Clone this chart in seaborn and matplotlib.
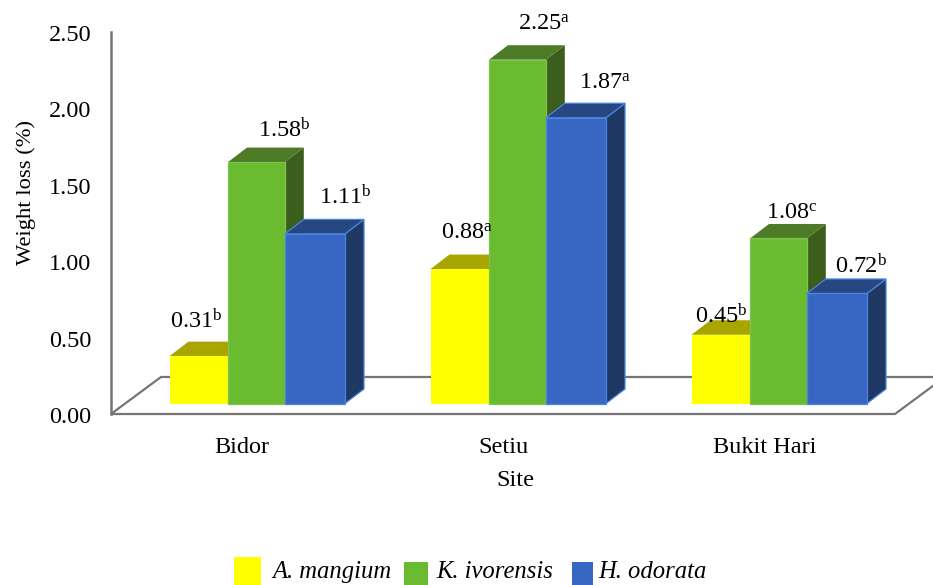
import matplotlib
matplotlib.use("Agg")
import matplotlib.pyplot as plt
from matplotlib.patches import Polygon, Rectangle
from matplotlib.transforms import ScaledTranslation
import pandas as pd
import seaborn as sns

sites = ["Bidor", "Setiu", "Bukit Hari"]
species = ["A. mangium", "K. ivorensis", "H. odorata"]
a_mangium = [0.31, 0.88, 0.45]
k_ivorensis = [1.58, 2.25, 1.08]
h_odorata = [1.11, 1.87, 0.72]
a_letters = ["b", "a", "b"]
k_letters = ["b", "a", "c"]
h_letters = ["b", "a", "b"]

W, H = 933, 585
sns.set_theme(style="white")
plt.rcParams["font.family"] = ["Liberation Serif", "DejaVu Serif"]
plt.rcParams["mathtext.fontset"] = "custom"
plt.rcParams["mathtext.rm"] = "Liberation Serif"
plt.rcParams["mathtext.it"] = "Liberation Serif:italic"
plt.rcParams["mathtext.default"] = "regular"

front = {"A. mangium": "#FFFF00", "K. ivorensis": "#6ABB30", "H. odorata": "#3867C3"}
top = ["#A9A500", "#4E7B27", "#264781"]
side = ["#A9A500", "#3C5E1C", "#1F3864"]
edge = ["#FFFF00", "#7DC455", "#4A84DE"]
GREY = "#757575"

# Axes box in pixels: the value axis runs from y=414 (0.00) up to y=32 (2.50).
L, R, T, B = 111, 933, 32, 414
fig = plt.figure(figsize=(W / 100, H / 100), dpi=100)
ax = fig.add_axes([L / W, 1 - B / H, (R - L) / W, (B - T) / H])

# Category spacing and the pixel position of the first group centre.
STEP = 261.0
C0 = 257.25
UNIT = (B - T) / 2.5
px_x = lambda p: (p - C0) / STEP
px_y = lambda p: (B - p) / UNIT
DX, DY = 19 / STEP, 14.5 / UNIT   # receding depth of each box
LIFT = px_y(403.5)                # front faces stand forward of the floor edge
TRIM = 1.7 / STEP                 # the blue boxes are a little wider than the green

records = pd.DataFrame({
    "site": sites * 3,
    "species": [s for s in species for _ in sites],
    "loss": a_mangium + k_ivorensis + h_odorata,
})

sns.barplot(data=records, x="site", y="loss", hue="species", order=sites,
            hue_order=species, palette=front, width=175.5 / STEP, gap=0,
            bottom=LIFT, saturation=1, errorbar=None, ax=ax, legend=False,
            linewidth=0, clip_on=False)

ax.set_xlim(px_x(L), px_x(R))
ax.set_ylim(0, 2.5)

# Floor of the chart, behind the boxes.
floor = [(111, 414), (161, 377), (945, 377), (895, 414)]
ax.add_patch(Polygon([(px_x(a), px_y(b)) for a, b in floor], closed=True,
                     facecolor="white", edgecolor=GREY, linewidth=1.6, zorder=0.5,
                     clip_on=False))

# Extrude every bar with a top and a side face, left to right so neighbours overlap.
for h, container in enumerate(ax.containers):
    for c, bar in enumerate(container):
        if h == 1:
            bar.set_width(bar.get_width() - TRIM)
        elif h == 2:
            bar.set_x(bar.get_x() - TRIM)
            bar.set_width(bar.get_width() + TRIM)
        x0 = bar.get_x()
        x1 = x0 + bar.get_width()
        y0 = LIFT
        y1 = LIFT + container.datavalues[c]
        z = 2 + c * 10 + h * 2
        bar.set_zorder(z + 1)
        bar.set_edgecolor(edge[h])
        bar.set_linewidth(0.9 if h else 0)
        ax.add_patch(Polygon([(x1, y0), (x1 + DX, y0 + DY), (x1 + DX, y1 + DY), (x1, y1)],
                             facecolor=side[h], edgecolor=edge[h],
                             linewidth=0.9 if h == 2 else 0, zorder=z, clip_on=False))
        ax.add_patch(Polygon([(x0, y1), (x0 + DX, y1 + DY), (x1 + DX, y1 + DY), (x1, y1)],
                             facecolor=top[h], edgecolor=edge[h],
                             linewidth=0.9 if h == 2 else 0, zorder=z, clip_on=False))

# Value labels with their significance letters; offsets are in pixels from the bar's top centre.
label_dx = [[-2, 7, 0.5], [27.5, 27, 13], [30, 29, 24]]
label_dy = [[35, 35.5, 19], [32, 35, 25.5], [36.5, 35, 28]]
letters = [a_letters, k_letters, h_letters]
for h, container in enumerate(ax.containers):
    for c, bar in enumerate(container):
        value = container.datavalues[c]
        ax.annotate(f"{value:.2f}$^{{{letters[h][c]}}}$",
                    xy=(bar.get_x() + bar.get_width() / 2, LIFT + value),
                    xytext=(label_dx[h][c] * 0.72, label_dy[h][c] * 0.72),
                    textcoords="offset points", ha="center", va="center",
                    fontsize=17.5, color="black", zorder=100, annotation_clip=False)

sns.despine(ax=ax, top=True, right=True, bottom=True)
ax.spines["left"].set_color(GREY)
ax.spines["left"].set_linewidth(1.8)
ax.set_yticks([0, 0.5, 1, 1.5, 2, 2.5])
ax.set_yticklabels(["0.00", "0.50", "1.00", "1.50", "2.00", "2.50"])
ax.tick_params(axis="y", length=0, pad=14, labelsize=17.5, labelcolor="black")
nudge = ScaledTranslation(0, -1 / 100, fig.dpi_scale_trans)
for tick_label in ax.get_yticklabels():
    tick_label.set_transform(tick_label.get_transform() + nudge)
ax.set_xticks([i - 15 / STEP for i in range(len(sites))])
ax.set_xticklabels(sites)
ax.tick_params(axis="x", length=0, pad=16.5, labelsize=17.5, labelcolor="black")
ax.set_xlabel("")
ax.set_ylabel("")
fig.text(515.5 / W, 1 - 481 / H, "Site", ha="center", va="center", fontsize=17.5, color="black")
fig.text(26.5 / W, 1 - 193 / H, "Weight loss (%)", rotation=90, ha="center", va="center",
         fontsize=16.2, color="black")

# Legend keys and names along the bottom edge.
keys = [(234, 557, 26.5, 27.5), (404, 561.5, 23.5, 23), (572, 561.5, 21, 23)]
names_x = [272, 436, 598]
for name, (kx, ky, kw, kh), nx in zip(species, keys, names_x):
    fig.add_artist(Rectangle((kx / W, 1 - (ky + kh) / H), kw / W, kh / H,
                             transform=fig.transFigure, facecolor=front[name], edgecolor="none"))
    fig.text(nx / W, 1 - 578 / H, name, ha="left", va="baseline", style="italic",
             fontsize=17.75, color="black")

fig.savefig("out.png", dpi=100, facecolor="white")
